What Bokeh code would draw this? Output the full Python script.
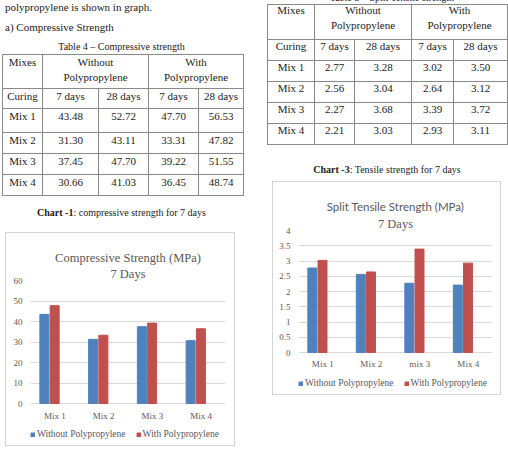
from bokeh.plotting import figure
from bokeh.models import (Div, FactorRange, Range1d, Legend, LegendItem, Title,
                          ColumnDataSource, FixedTicker, NumeralTickFormatter)
from bokeh.core.properties import value
from bokeh.layouts import row, column
from bokeh.transform import dodge
from bokeh.embed import file_html
from bokeh.resources import INLINE

# ---- data -------------------------------------------------------------
mixes = ["Mix 1", "Mix 2", "Mix 3", "Mix 4"]
curing = ["7 days", "28 days", "7 days", "28 days"]

comp_without_7 = [43.48, 31.30, 37.45, 30.66]
comp_without_28 = [52.72, 43.11, 47.70, 41.03]
comp_with_7 = [47.70, 33.31, 39.22, 36.45]
comp_with_28 = [56.53, 47.82, 51.55, 48.74]

tens_without_7 = [2.77, 2.56, 2.27, 2.21]
tens_without_28 = [3.28, 3.04, 3.68, 3.03]
tens_with_7 = [3.02, 2.64, 3.39, 2.93]
tens_with_28 = [3.50, 3.12, 3.72, 3.11]

tens_categories = ["Mix 1", "Mix 2", "mix 3", "Mix 4"]
comp_ticks = [0, 10, 20, 30, 40, 50, 60]
tens_ticks = [0, 0.5, 1, 1.5, 2, 2.5, 3, 3.5, 4]
series_names = ["Without Polypropylene", "With Polypropylene"]

# ---- styling ----------------------------------------------------------
BLUE = "#4F81BD"
RED = "#C0504D"
GREY_TXT = "#595959"
GRID = "#D9D9D9"
BOX = "#D4D4D4"
SERIF = "Liberation Serif"
TXT = "#1a1a1a"


def table_html(left, top, col_w, row_h, cols, head_lh, head_shift, body_lh):
    def td(content, lh, shift=0, span=1):
        span_attr = f' colspan="{span}"' if span > 1 else ""
        return (f'<td{span_attr} style="border:1px solid #8a8a8a;text-align:center;'
                f'vertical-align:top;padding:0;line-height:{lh}px;overflow:hidden;">'
                f'<div style="position:relative;top:{shift}px;">{content}</div></td>')

    colgroup = "".join(f'<col style="width:{w}px">' for w in col_w)
    head = (f'<tr style="height:{row_h[0]}px">'
            + td("Mixes", head_lh, head_shift)
            + td("Without<br>Polypropylene", head_lh, head_shift, 2)
            + td("With<br>Polypropylene", head_lh, head_shift, 2) + "</tr>")
    rows = [f'<tr style="height:{row_h[1]}px">' + td("Curing", body_lh)
            + "".join(td(c, body_lh) for c in curing) + "</tr>"]
    for i, m in enumerate(mixes):
        vals = [cols[0][i], cols[1][i], cols[2][i], cols[3][i]]
        rows.append(f'<tr style="height:{row_h[i + 2]}px">' + td(m, body_lh)
                    + "".join(td(f"{v:.2f}", body_lh) for v in vals) + "</tr>")
    return (f'<table style="position:absolute;left:{left}px;top:{top}px;border-collapse:collapse;'
            f'table-layout:fixed;font-size:11px;color:{TXT};">'
            f'<colgroup>{colgroup}</colgroup>{head}{"".join(rows)}</table>')


def text_block(left, top, width, size, html, align="left"):
    return (f'<div style="position:absolute;left:{left}px;top:{top}px;width:{width}px;'
            f'font-size:{size}px;line-height:{round(size * 1.2)}px;text-align:{align};'
            f'white-space:nowrap;">{html}</div>')


left_html = (
    f'<div style="position:relative;width:254px;height:232px;overflow:hidden;'
    f'font-family:\'{SERIF}\',serif;color:{TXT};">'
    + text_block(5, 1, 240, 11, "polypropylene is shown in graph.")
    + text_block(5, 21, 240, 11, "a) Compressive Strength")
    + text_block(0, 41, 243, 10, "Table 4 &ndash; Compressive strength", "center")
    + table_html(2, 54, [40, 56, 50, 50, 45], [34, 20, 24, 21, 21, 21],
                 [comp_without_7, comp_without_28, comp_with_7, comp_with_28], 15, 0, 14)
    + text_block(0, 207, 243, 10, "<b>Chart -1</b>: compressive strength for 7 days", "center")
    + "</div>"
)

right_html = (
    f'<div style="position:relative;width:254px;height:181px;overflow:hidden;'
    f'font-family:\'{SERIF}\',serif;color:{TXT};">'
    + text_block(38, -8, 200, 10, "Table 5 &ndash; Split Tensile strength", "center")
    + table_html(13, 4, [47, 40, 57, 42, 54], [35, 21, 21, 21, 21, 21],
                 [tens_without_7, tens_without_28, tens_with_7, tens_with_28], 15, -2, 12)
    + text_block(33, 164, 200, 10, "<b>Chart -3</b>: Tensile strength for 7 days", "center")
    + "</div>"
)

div_left = Div(text=left_html, width=254, height=232, margin=0)
div_right = Div(text=right_html, width=254, height=181, margin=0)


def bar_chart(cats, without, with_, y_end, ticks, title_text, title_font, title_size,
              sub_text, width, height, left, right, top, margin, main_standoff,
              sub_standoff, title_shift, label_gap, legend_x):
    # the frame runs down to the bottom of the chart box; the area under the
    # zero line holds the category names and the legend
    plot_px = height - top
    value_px = plot_px - 44
    y_start = -44 / value_px * y_end
    label_y = -label_gap / value_px * y_end

    src = ColumnDataSource(dict(mix=cats, without=without, with_=with_))
    p = figure(x_range=FactorRange(*cats), y_range=Range1d(y_start, y_end),
               width=width, height=height, output_backend="svg", toolbar_location=None,
               x_axis_location=None,
               min_border_left=left, min_border_right=right,
               min_border_top=top, min_border_bottom=0,
               outline_line_color=None, margin=margin, border_fill_color="white",
               styles={"border": f"1px solid {BOX}"})
    r1 = p.vbar(x=dodge("mix", -0.215, range=p.x_range), top="without", width=0.185,
                source=src, color=BLUE)
    r2 = p.vbar(x=dodge("mix", -0.005, range=p.x_range), top="with_", width=0.185,
                source=src, color=RED)
    p.text(x="mix", y=label_y, text="mix", source=src, text_align="center",
           text_baseline="middle", text_font=value(SERIF), text_font_size=value("9px"),
           text_color=GREY_TXT)

    p.xgrid.grid_line_color = None
    p.ygrid.grid_line_color = GRID
    p.ygrid.ticker = FixedTicker(ticks=ticks)
    p.yaxis.ticker = FixedTicker(ticks=ticks)
    p.yaxis.formatter = NumeralTickFormatter(format="0.[0]")
    ax = p.yaxis[0]
    ax.axis_line_color = None
    ax.major_tick_line_color = None
    ax.minor_tick_line_color = None
    ax.major_tick_out = 0
    ax.major_tick_in = 0
    ax.minor_tick_out = 0
    ax.major_label_text_font = SERIF
    ax.major_label_text_font_size = "9px"
    ax.major_label_text_color = GREY_TXT
    ax.major_label_standoff = 8

    p.title.text = title_text
    p.title.align = "center"
    p.title.text_font = title_font
    p.title.text_font_size = title_size
    p.title.text_font_style = "normal"
    p.title.text_color = GREY_TXT
    p.title.text_line_height = 1.12
    p.title.standoff = main_standoff
    p.title.offset = title_shift
    p.add_layout(Title(text=sub_text, align="center", text_font=SERIF,
                       text_font_size="12.5px", text_font_style="normal",
                       text_color=GREY_TXT, standoff=sub_standoff,
                       offset=title_shift), "above")

    legend = Legend(items=[LegendItem(label=series_names[0], renderers=[r1]),
                           LegendItem(label=series_names[1], renderers=[r2])],
                    orientation="horizontal", location=(legend_x, 8),
                    glyph_width=5, glyph_height=5, label_height=10, label_width=10,
                    label_standoff=2, spacing=10,
                    label_text_font=SERIF, label_text_font_size="9.5px",
                    label_text_color=GREY_TXT, border_line_color=None,
                    background_fill_alpha=0, padding=0, margin=0)
    p.add_layout(legend)
    return p


fig1 = bar_chart(mixes, comp_without_7, comp_with_7, 60, comp_ticks,
                 "Compressive Strength (MPa)", SERIF, "12.5px", "7 Days",
                 230, 214, 24, 11, 47, (0, 0, 0, 5), 0, 0, -7, 12, 0)
fig3 = bar_chart(tens_categories, tens_without_7, tens_with_7, 4, tens_ticks,
                 "Split Tensile Strength (MPa)", "Lato", "11.5px", "7 Days",
                 229, 214, 25, 10, 48, (0, 0, 0, 18), 3, 0, -2, 11, 0)

page = row(column(div_left, fig1, spacing=0), column(div_right, fig3, spacing=0), spacing=0)

with open("out.html", "w") as fh:
    fh.write(file_html(page, INLINE))
